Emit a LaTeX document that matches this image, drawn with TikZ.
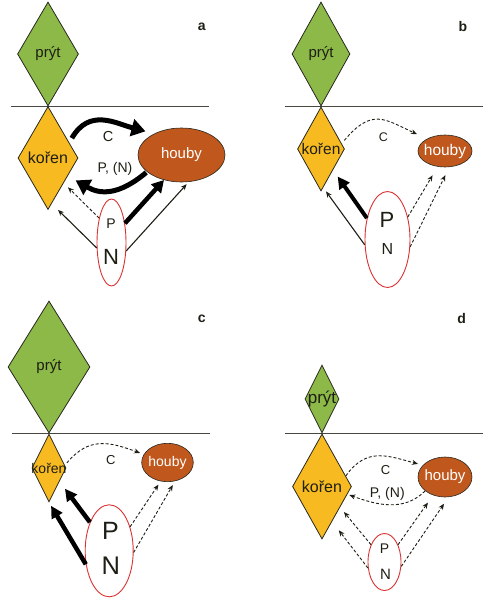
\documentclass[tikz,border=0pt]{standalone}
\usepackage{fontspec}
\setmainfont{Liberation Sans}
\usetikzlibrary{shapes.geometric,arrows.meta}
\definecolor{grn}{RGB}{140,185,72}
\definecolor{yel}{RGB}{247,187,33}
\definecolor{brn}{RGB}{192,88,30}
\definecolor{redc}{RGB}{218,50,50}
\definecolor{lnc}{RGB}{40,40,30}
\definecolor{txt}{RGB}{30,30,20}
\newcommand{\fsz}[1]{\fontsize{#1}{#1}\selectfont}
\newcommand{\zw}[1]{\makebox[0pt]{#1}}
\begin{document}
\begin{tikzpicture}[x=1pt,y=1pt,
  dia/.style={diamond, draw=lnc, line width=0.8pt, inner sep=0pt, text=txt},
  shoot/.style={dia, fill=grn},
  root/.style={dia, fill=yel},
  fung/.style={ellipse, draw=lnc, line width=0.6pt, fill=brn, text=white, inner sep=0pt},
  nut/.style={ellipse, draw=redc, line width=0.9pt, fill=white, inner sep=0pt},
  lab/.style={inner sep=0pt, text=txt},
  panel/.style={font=\fsz{14}\bfseries, inner sep=0pt, text=txt},
  ground/.style={draw=lnc!85, line width=0.9pt},
  thinarr/.style={draw=txt, line width=1.1pt, -{Stealth[length=6pt,width=5pt]}},
  dasharr/.style={draw=txt, line width=0.9pt, dash pattern=on 3pt off 2pt, -{Stealth[length=6pt,width=5pt]}},
  arcarr/.style={draw=black, line width=5pt, -{Triangle[length=14pt,width=17pt]}},
  fatarr/.style={draw=black, line width=4.5pt, -{Triangle[length=12pt,width=13pt]}},
  fatb/.style={draw=black, line width=4pt, -{Triangle[length=12pt,width=12pt]}},
]
\useasboundingbox (0,0) rectangle (495,-600);

% ---------------- panel a ----------------
\coordinate (ga1) at (11,-106); \coordinate (ga2) at (209,-106);
\draw[ground] (ga1) -- (ga2);
\node[shoot, minimum width=61pt, minimum height=104pt, font=\fsz{15}] (pra) at (48,-54) {\zw{prýt}};
\node[root, minimum width=60pt, minimum height=103pt, font=\fsz{16}] (ka) at (48,-158) {\zw{kořen}};
\node[fung, minimum width=87pt, minimum height=54pt, font=\fsz{15}] (ha) at (181.5,-155) {\zw{houby}};
\node[nut, minimum width=29pt, minimum height=87pt] (pa) at (111.5,-242.5) {};
\node[lab, font=\fsz{14}] (paP) at (111,-223.3) {P};
\node[lab, font=\fsz{22}] (paN) at (111,-257) {N};
\node[lab, font=\fsz{14.5}] (aC) at (108,-137) {C};
\node[lab, font=\fsz{14}] (aPN) at (115,-169) {P, (N)};
\draw[arcarr, shorten <=5pt, shorten >=9pt] (ka.36) to[out=60,in=165,looseness=1.2] (ha.142);
\draw[arcarr, shorten <=1pt, shorten >=9pt] (ha.206) to[out=220,in=-30,looseness=1.2] (ka.-42);
\draw[dasharr, shorten >=6pt] (pa.117) -- (ka.-58);
\draw[thinarr] (pa.200) -- ([xshift=10pt]ka.south);
\draw[fatarr] (pa.55) -- (ha.235);
\draw[thinarr, shorten >=3pt] (pa.-30) -- (ha.-75);
\node[panel] (la) at (201.7,-26.7) {a};

% ---------------- panel b ----------------
\coordinate (gb1) at (285,-106); \coordinate (gb2) at (483,-106);
\draw[ground] (gb1) -- (gb2);
\node[shoot, minimum width=58pt, minimum height=104pt, font=\fsz{15}] (prb) at (321,-54) {\zw{prýt}};
\node[root, minimum width=47pt, minimum height=84pt, font=\fsz{15.5}] (kb) at (321,-149) {\zw{kořen}};
\node[fung, minimum width=54pt, minimum height=32pt, font=\fsz{15.5}] (hb) at (445,-151) {\zw{houby}};
\node[nut, minimum width=45pt, minimum height=96pt] (pb) at (387.5,-239.5) {};
\node[lab, font=\fsz{22}] (pbP) at (387,-219.5) {P};
\node[lab, font=\fsz{16}] (pbN) at (387.5,-249) {N};
\node[lab, font=\fsz{12.5}] (bC) at (383.3,-137.2) {C};
\draw[dasharr, shorten <=4pt, shorten >=11pt] (kb.15) to[out=50,in=155,looseness=1.4] (hb.146);
\draw[fatb, shorten >=8pt] (pb.134) -- (kb.-60);
\draw[thinarr] (pb.193) -- ([xshift=5pt]kb.south);
\draw[dasharr, shorten >=10pt] (pb.48) -- (hb.245);
\draw[dasharr, shorten >=9pt] (pb.-18) -- (hb.-75);
\node[panel] (lb) at (463,-26.7) {b};

% ---------------- panel c ----------------
\coordinate (gc1) at (12,-433); \coordinate (gc2) at (210,-433);
\draw[ground] (gc1) -- (gc2);
\node[shoot, minimum width=82pt, minimum height=132pt, font=\fsz{15}] (prc) at (49,-367) {\zw{prýt}};
\node[root, minimum width=34pt, minimum height=68pt, font=\fsz{14}] (kc) at (49,-468) {\zw{kořen}};
\node[fung, minimum width=51.6pt, minimum height=38.4pt, font=\fsz{14}] (hc) at (167.5,-462.5) {\zw{houby}};
\node[nut, minimum width=48pt, minimum height=92pt] (pcn) at (109.2,-550.8) {};
\node[lab, font=\fsz{25}] (pcP) at (110.5,-530.5) {P};
\node[lab, font=\fsz{25.5}] (pcN) at (110.8,-565.8) {N};
\node[lab, font=\fsz{13}] (cC) at (110.8,-460) {C};
\draw[dasharr, shorten <=3pt, shorten >=4pt] (kc.10) to[out=50,in=160,looseness=1.2] (hc.161);
\draw[fatb, line width=4.5pt, shorten >=9pt] (pcn.124) -- (kc.-52);
\draw[fatb, line width=4.5pt, shorten >=4pt] (pcn.210) -- (kc.south);
\draw[dasharr, shorten >=4pt] (pcn.49) -- (hc.250);
\draw[dasharr, shorten >=4.5pt] (pcn.-4) -- (hc.-68);
\node[panel] (lc) at (201.7,-318.3) {c};

% ---------------- panel d ----------------
\coordinate (gd1) at (285,-433); \coordinate (gd2) at (483,-433);
\draw[ground] (gd1) -- (gd2);
\node[shoot, minimum width=34pt, minimum height=68pt, font=\fsz{17}] (prd) at (322,-399) {\zw{prýt}};
\node[root, minimum width=59pt, minimum height=105pt, font=\fsz{16}] (kd) at (322,-486.5) {\zw{kořen}};
\node[fung, minimum width=54pt, minimum height=40pt, font=\fsz{15}] (hd) at (445,-477) {\zw{houby}};
\node[nut, minimum width=33pt, minimum height=57pt] (pd) at (384.5,-562) {};
\node[lab, font=\fsz{14}] (pdP) at (384.5,-548.3) {P};
\node[lab, font=\fsz{15}] (pdN) at (385.5,-574.7) {N};
\node[lab, font=\fsz{13}] (dC) at (385.5,-470) {C};
\node[lab, font=\fsz{14}] (dPN) at (387.3,-494) {P, (N)};
\draw[dasharr, shorten >=5pt] (kd.24) to[out=55,in=165,looseness=1.18] (hd.152);
\draw[dasharr, shorten >=2pt] (hd.215) to[out=225,in=-20,looseness=1] (kd.-17);
\draw[dasharr, shorten >=6pt] (pd.128) -- (kd.-49);
\draw[dasharr, shorten >=11pt] (pd.200) -- (kd.-74);
\draw[dasharr, shorten >=9pt] (pd.52) -- (hd.237);
\draw[dasharr, shorten >=8pt] (pd.-15) -- (hd.-80);
\node[panel] (ld) at (461.7,-318.3) {d};
\end{tikzpicture}
\end{document}
